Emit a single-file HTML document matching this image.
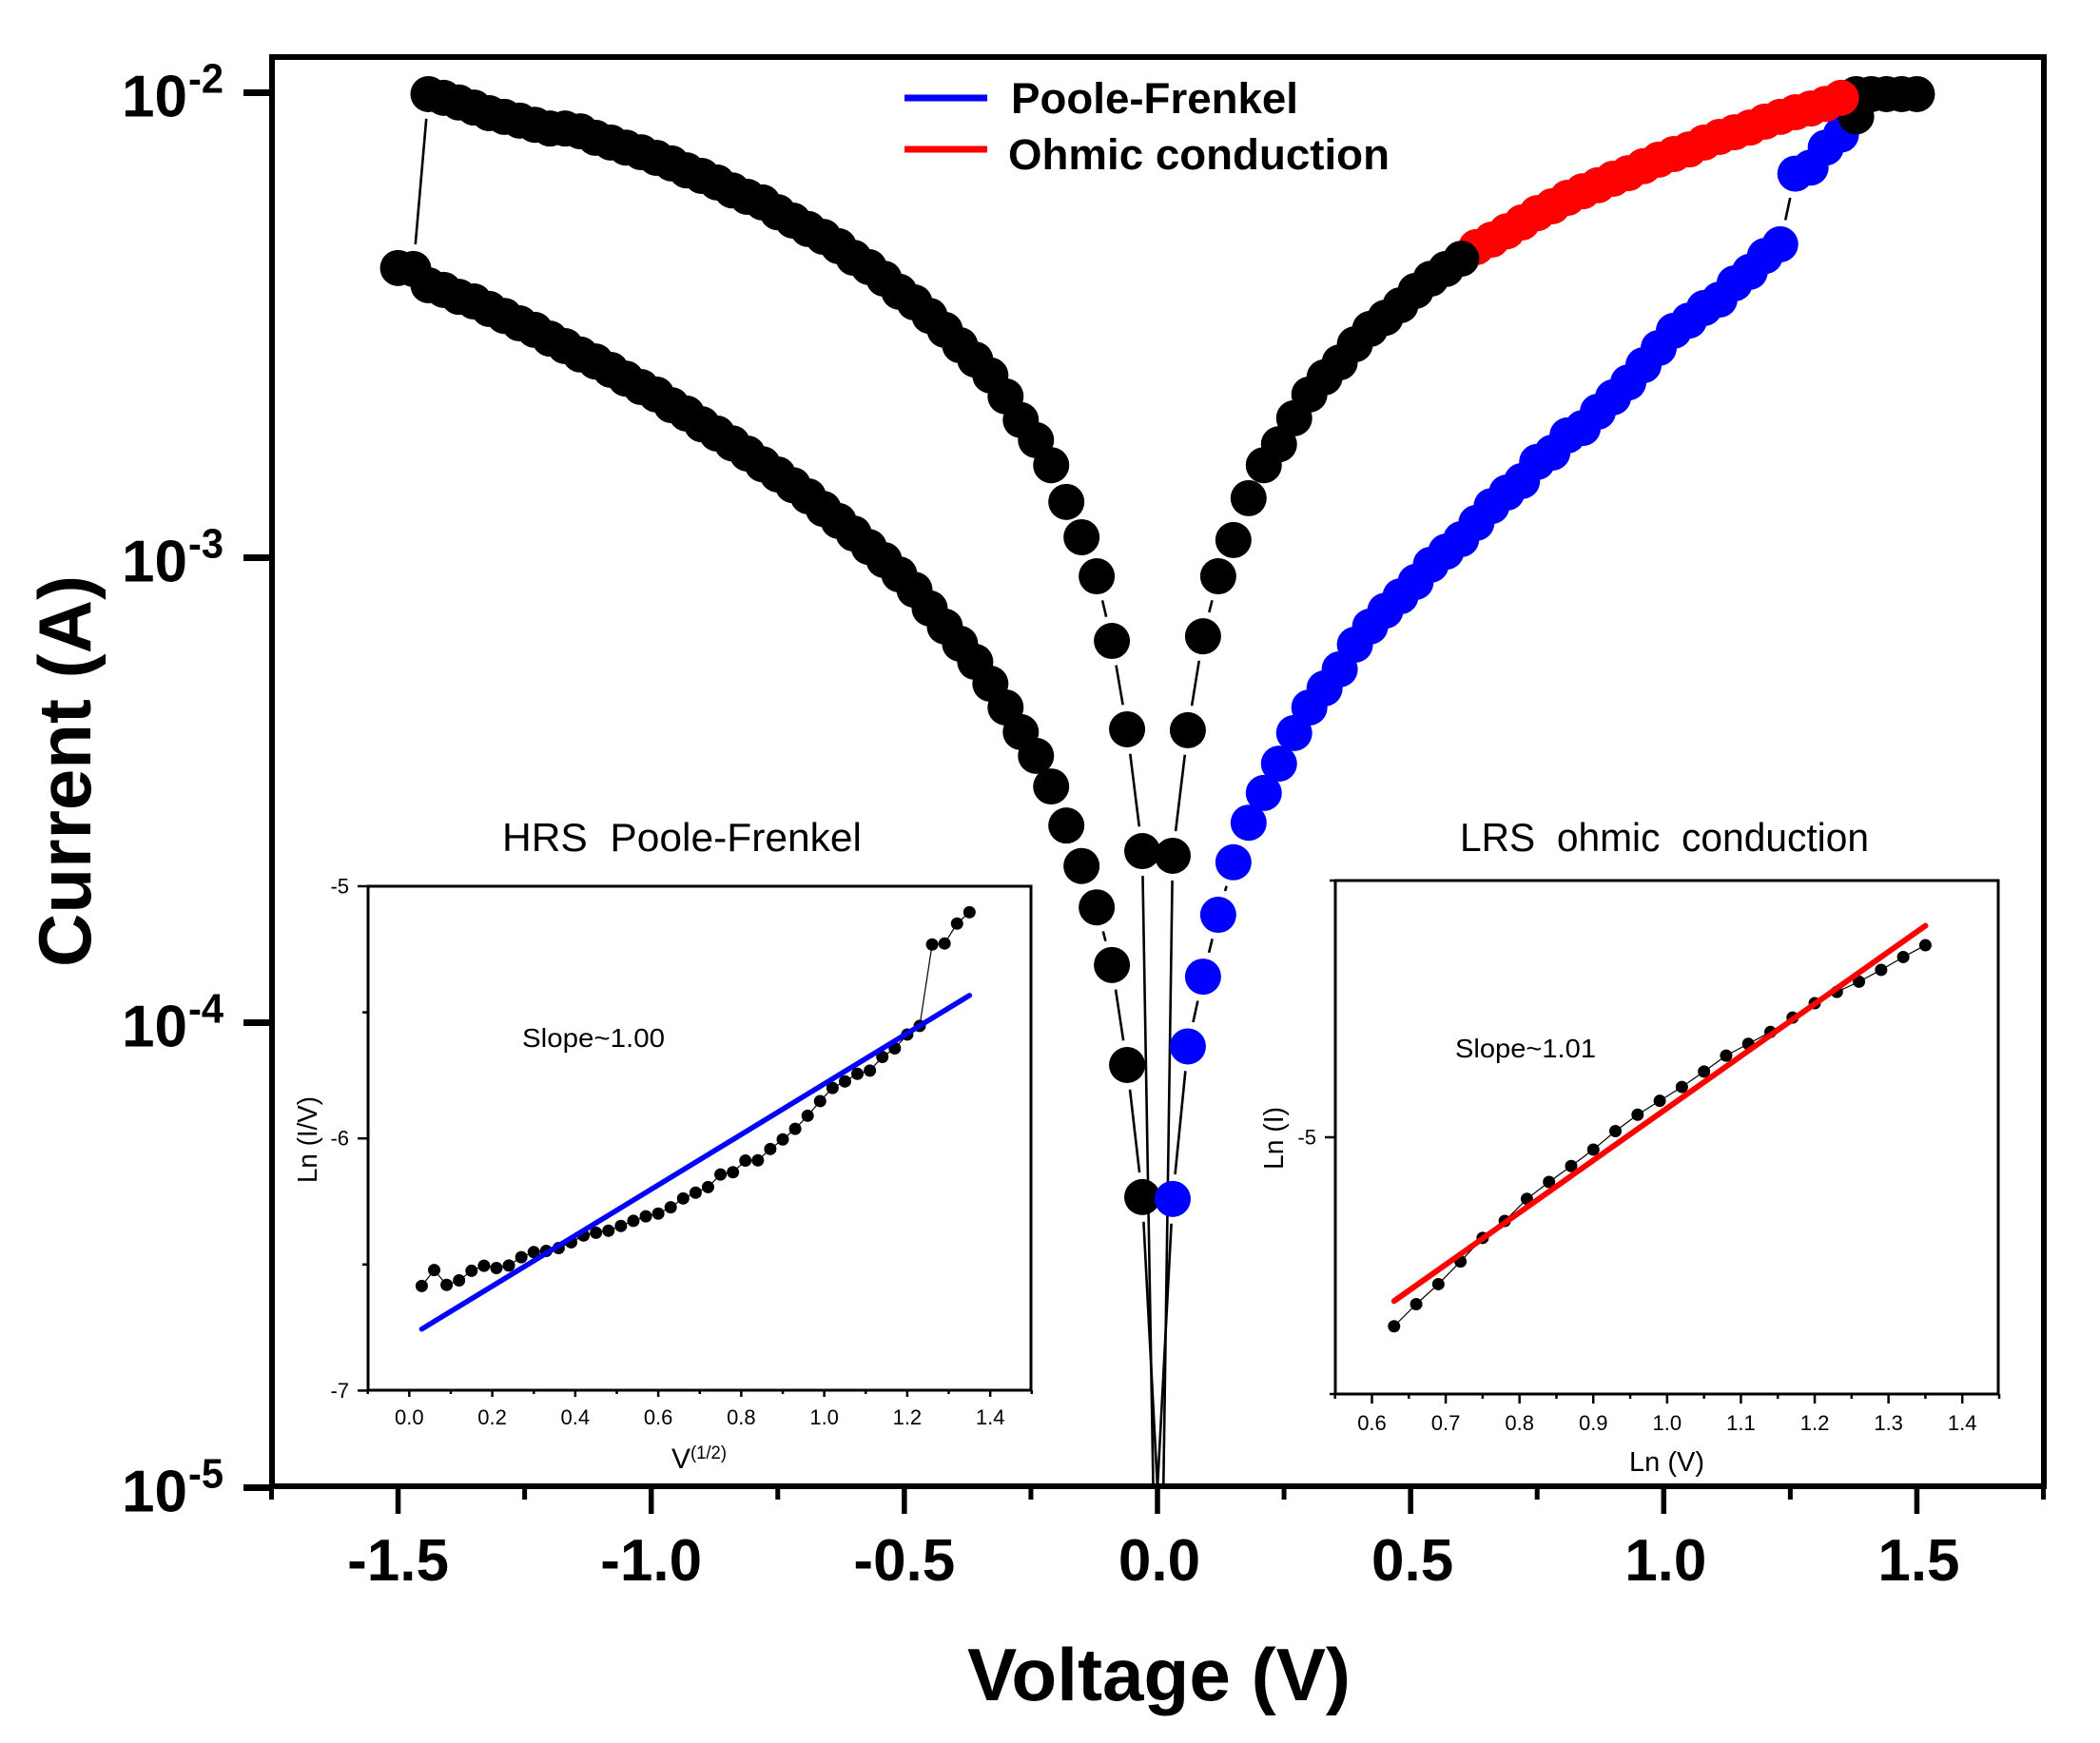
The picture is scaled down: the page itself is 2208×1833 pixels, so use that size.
<!DOCTYPE html>
<html lang="en">
<head>
<meta charset="utf-8">
<title>Current vs Voltage</title>
<style>
html,body{margin:0;padding:0;background:#fff;overflow:hidden;}
svg{display:block;}
text{font-family:"Liberation Sans",Arial,sans-serif;fill:#000;white-space:pre;}
.b{font-weight:bold;}
</style>
</head>
<body>
<svg id="chart" xmlns="http://www.w3.org/2000/svg" width="2208" height="1833" viewBox="0 0 2208 1833">
  <rect x="0" y="0" width="2208" height="1833" fill="#fff"/>
  <g id="main-lines"></g>
  <g id="main-marks"></g>
  <rect x="286" y="60" width="1863" height="1503" fill="none" stroke="#000" stroke-width="6"/>
  <g id="main-axes"></g>

  <text class="b" x="1017" y="1788" font-size="78" textLength="403" lengthAdjust="spacingAndGlyphs">Voltage (V)</text>
  <text class="b" transform="translate(95,1017) rotate(-90)" x="0" y="0" font-size="78" textLength="412" lengthAdjust="spacingAndGlyphs">Current (A)</text>

  <g>
    <line x1="951" y1="103" x2="1038" y2="103" stroke="#0000ff" stroke-width="7"/>
    <text class="b" x="1063" y="119" font-size="45" textLength="302" lengthAdjust="spacingAndGlyphs">Poole-Frenkel</text>
    <line x1="951" y1="157" x2="1038" y2="157" stroke="#ff0000" stroke-width="7"/>
    <text class="b" x="1060" y="178" font-size="45" textLength="401" lengthAdjust="spacingAndGlyphs">Ohmic conduction</text>
  </g>

  <g>
    <text x="528" y="895" font-size="42" textLength="378" lengthAdjust="spacingAndGlyphs">HRS  Poole-Frenkel</text>
    <g id="hrs-plot"></g>
    <rect x="387" y="932" width="697" height="530" fill="none" stroke="#000" stroke-width="3"/>
    <g id="hrs-axes"></g>
    <text x="549" y="1101" font-size="28" textLength="150" lengthAdjust="spacingAndGlyphs">Slope~1.00</text>
    <text transform="translate(333,1244) rotate(-90)" font-size="29" textLength="91" lengthAdjust="spacingAndGlyphs">Ln (I/V)</text>
    <text x="706" y="1544" font-size="30">V</text>
    <text x="726" y="1534" font-size="19" textLength="38" lengthAdjust="spacingAndGlyphs">(1/2)</text>
  </g>

  <g>
    <text x="1535" y="895" font-size="42" textLength="430" lengthAdjust="spacingAndGlyphs">LRS  ohmic  conduction</text>
    <g id="lrs-plot"></g>
    <rect x="1404" y="926" width="697" height="540" fill="none" stroke="#000" stroke-width="3"/>
    <g id="lrs-axes"></g>
    <text x="1530" y="1112" font-size="28" textLength="148" lengthAdjust="spacingAndGlyphs">Slope~1.01</text>
    <text transform="translate(1349,1230) rotate(-90)" font-size="29" textLength="66" lengthAdjust="spacingAndGlyphs">Ln (I)</text>
    <text x="1713" y="1547" font-size="29" textLength="79" lengthAdjust="spacingAndGlyphs">Ln (V)</text>
  </g>
</svg>
<script>
/* ---------- main chart data: voltage (V) and log10 of current (A) ---------- */
const upperLeftVoltage = [-1.44,-1.41,-1.38,-1.35,-1.32,-1.29,-1.26,-1.23,-1.20,-1.17,-1.14,-1.11,-1.08,-1.05,-1.02,-0.99,-0.96,-0.93,-0.90,-0.87,-0.84,-0.81,-0.78,-0.75,-0.72,-0.69,-0.66,-0.63,-0.60,-0.57,-0.54,-0.51,-0.48,-0.45,-0.42,-0.39,-0.36,-0.33,-0.30,-0.27,-0.24,-0.21,-0.18,-0.15,-0.12,-0.09,-0.06,-0.03];
const upperLeftLogI = [-2.003,-2.011,-2.021,-2.032,-2.044,-2.052,-2.060,-2.069,-2.077,-2.077,-2.083,-2.097,-2.107,-2.118,-2.128,-2.140,-2.152,-2.167,-2.179,-2.193,-2.210,-2.224,-2.236,-2.257,-2.275,-2.293,-2.310,-2.330,-2.355,-2.375,-2.400,-2.428,-2.451,-2.480,-2.510,-2.543,-2.574,-2.608,-2.653,-2.704,-2.747,-2.801,-2.880,-2.956,-3.040,-3.179,-3.369,-3.631];
const lowerLeftVoltage = [-1.50,-1.47,-1.44,-1.41,-1.38,-1.35,-1.32,-1.29,-1.26,-1.23,-1.20,-1.17,-1.14,-1.11,-1.08,-1.05,-1.02,-0.99,-0.96,-0.93,-0.90,-0.87,-0.84,-0.81,-0.78,-0.75,-0.72,-0.69,-0.66,-0.63,-0.60,-0.57,-0.54,-0.51,-0.48,-0.45,-0.42,-0.39,-0.36,-0.33,-0.30,-0.27,-0.24,-0.21,-0.18,-0.15,-0.12,-0.09,-0.06,-0.03];
const lowerLeftLogI = [-2.377,-2.379,-2.414,-2.424,-2.439,-2.449,-2.465,-2.480,-2.496,-2.510,-2.529,-2.545,-2.563,-2.578,-2.596,-2.615,-2.633,-2.649,-2.672,-2.690,-2.713,-2.733,-2.754,-2.776,-2.799,-2.821,-2.844,-2.868,-2.895,-2.921,-2.948,-2.977,-3.005,-3.036,-3.069,-3.109,-3.148,-3.185,-3.224,-3.271,-3.322,-3.375,-3.426,-3.492,-3.576,-3.663,-3.752,-3.876,-4.091,-4.375];
const hrsRightVoltage = [0.03,0.06,0.09,0.12,0.15,0.18,0.21,0.24,0.27,0.30,0.33,0.36,0.39,0.42,0.45,0.48,0.51,0.54,0.57,0.60,0.63,0.66,0.69,0.72,0.75,0.78,0.81,0.84,0.87,0.90,0.93,0.96,0.99,1.02,1.05,1.08,1.11,1.14,1.17,1.20,1.23,1.26,1.29,1.32,1.35];
const hrsRightLogI = [-4.379,-4.051,-3.901,-3.768,-3.655,-3.570,-3.506,-3.443,-3.377,-3.322,-3.281,-3.240,-3.187,-3.148,-3.114,-3.083,-3.052,-3.015,-2.987,-2.960,-2.925,-2.889,-2.860,-2.835,-2.794,-2.774,-2.737,-2.721,-2.686,-2.655,-2.623,-2.586,-2.549,-2.512,-2.490,-2.463,-2.445,-2.410,-2.385,-2.351,-2.326,-2.174,-2.161,-2.118,-2.090];
const lrsRightVoltage = [0.03,0.06,0.09,0.12,0.15,0.18,0.21,0.24,0.27,0.30,0.33,0.36,0.39,0.42,0.45,0.48,0.51,0.54,0.57,0.60];
const lrsRightLogI = [-3.641,-3.371,-3.169,-3.040,-2.962,-2.872,-2.801,-2.756,-2.700,-2.649,-2.612,-2.580,-2.541,-2.508,-2.484,-2.457,-2.426,-2.400,-2.379,-2.357];
const ohmicVoltage = [0.63,0.66,0.69,0.72,0.75,0.78,0.81,0.84,0.87,0.90,0.93,0.96,0.99,1.02,1.05,1.08,1.11,1.14,1.17,1.20,1.23,1.26,1.29,1.32,1.35];
const ohmicLogI = [-2.332,-2.316,-2.298,-2.279,-2.259,-2.244,-2.226,-2.212,-2.199,-2.185,-2.173,-2.158,-2.144,-2.132,-2.122,-2.107,-2.095,-2.085,-2.075,-2.062,-2.052,-2.042,-2.034,-2.024,-2.011];
const complianceVoltage = [1.38,1.38,1.41,1.44,1.47,1.50];
const complianceLogI = [-2.051,-2.003,-2.003,-2.003,-2.003,-2.003];
/* log10(I) reached by each branch at V = 0, below the visible axis range */
const zeroUpperLeftLogI = -5.53;
const zeroLowerLeftLogI = -5.00;
const zeroHrsRightLogI = -5.00;
const zeroLrsRightLogI = -5.87;
const xMajorTicks = [-1.5,-1.0,-0.5,0.0,0.5,1.0,1.5];
const xMinorTicks = [-1.75,-1.25,-0.75,-0.25,0.25,0.75,1.25,1.75];
const xTickLabels = ["-1.5","-1.0","-0.5","0.0","0.5","1.0","1.5"];
const yTickExponents = [-2,-3,-4,-5];

/* ---------- inset: HRS Poole-Frenkel ---------- */
const hrsInsetX = [0.03,0.06,0.09,0.12,0.15,0.18,0.21,0.24,0.27,0.30,0.33,0.36,0.39,0.42,0.45,0.48,0.51,0.54,0.57,0.60,0.63,0.66,0.69,0.72,0.75,0.78,0.81,0.84,0.87,0.90,0.93,0.96,0.99,1.02,1.05,1.08,1.11,1.14,1.17,1.20,1.23,1.26,1.29,1.32,1.35];
const hrsInsetY = [-6.585,-6.522,-6.581,-6.563,-6.525,-6.505,-6.514,-6.504,-6.471,-6.451,-6.446,-6.435,-6.412,-6.385,-6.374,-6.366,-6.347,-6.327,-6.309,-6.298,-6.273,-6.238,-6.215,-6.193,-6.143,-6.134,-6.088,-6.087,-6.042,-6.004,-5.962,-5.910,-5.852,-5.800,-5.774,-5.744,-5.731,-5.677,-5.643,-5.588,-5.554,-5.231,-5.227,-5.148,-5.103];
const hrsFitX = [0.03,1.35];
const hrsFitY = [-6.756,-5.433];
const hrsXMajor = [0.0,0.2,0.4,0.6,0.8,1.0,1.2,1.4];
const hrsXLabels = ["0.0","0.2","0.4","0.6","0.8","1.0","1.2","1.4"];
const hrsXMinor = [-0.1,0.1,0.3,0.5,0.7,0.9,1.1,1.3,1.5];
const hrsYMajor = [-5,-6,-7];
const hrsYLabels = ["-5","-6","-7"];
const hrsYMinor = [-5.5,-6.5];

/* ---------- inset: LRS ohmic conduction ---------- */
const lrsInsetX = [0.63,0.66,0.69,0.72,0.75,0.78,0.81,0.84,0.87,0.90,0.93,0.96,0.99,1.02,1.05,1.08,1.11,1.14,1.17,1.20,1.23,1.26,1.29,1.32,1.35];
const lrsInsetY = [-5.368,-5.325,-5.286,-5.242,-5.196,-5.163,-5.120,-5.087,-5.056,-5.024,-4.988,-4.956,-4.929,-4.902,-4.872,-4.841,-4.818,-4.795,-4.767,-4.739,-4.717,-4.697,-4.674,-4.649,-4.626];
const lrsFitX = [0.63,1.35];
const lrsFitY = [-5.319,-4.588];
const lrsXMajor = [0.6,0.7,0.8,0.9,1.0,1.1,1.2,1.3,1.4];
const lrsXLabels = ["0.6","0.7","0.8","0.9","1.0","1.1","1.2","1.3","1.4"];
const lrsXMinor = [0.55,0.65,0.75,0.85,0.95,1.05,1.15,1.25,1.35,1.45];
const lrsYMajor = [-5];
const lrsYLabels = ["-5"];
const lrsYMinor = [-4.5,-5.5];

/* ---------- axis functions ---------- */
const SVG_NS = "http://www.w3.org/2000/svg";
const PLOT_BOTTOM = 1563;
function mainX(v){ return 1217 + 532.3 * v; }
function mainY(e){ return 97.5 + (-2 - e) * 489; }
function hrsX(v){ return 386.7 + (v + 0.1) * 436.3; }
function hrsY(y){ return 932 + (-5 - y) * 265.2; }
function lrsX(v){ return 1403.7 + (v - 0.55) * 775.9; }
function lrsY(y){ return 926 + (-4.5 - y) * 540; }

function make(tag, parent, attrs){
  const el = document.createElementNS(SVG_NS, tag);
  for (const k in attrs) el.setAttribute(k, attrs[k]);
  parent.appendChild(el);
  return el;
}

const mainLines = document.getElementById("main-lines");
const mainMarks = document.getElementById("main-marks");
const mainAxes = document.getElementById("main-axes");
const GAP = 26;

function gappedSegment(x1, y1, x2, y2, gapStart, gapEnd){
  const dx = x2 - x1, dy = y2 - y1, len = Math.hypot(dx, dy);
  if (len <= gapStart + gapEnd) return;
  const ux = dx / len, uy = dy / len;
  const sx = x1 + ux * gapStart, sy = y1 + uy * gapStart;
  let ex = x2 - ux * gapEnd, ey = y2 - uy * gapEnd;
  /* stop at the x axis: branches keep falling below the visible range */
  if (ey > PLOT_BOTTOM){
    const t = (PLOT_BOTTOM - sy) / (ey - sy);
    ex = sx + (ex - sx) * t;
    ey = PLOT_BOTTOM;
  }
  const ln = make("line", mainLines, {x1:sx, y1:sy, x2:ex, y2:ey, stroke:"#000", "stroke-width":2.6});
  
  
}
function connectSeries(vs, es){
  for (let i = 0; i + 1 < vs.length; i++){
    gappedSegment(mainX(vs[i]), mainY(es[i]), mainX(vs[i+1]), mainY(es[i+1]), GAP, GAP);
  }
}
function drawMarkers(vs, es, color, name){
  for (let i = 0; i < vs.length; i++){
    const c = make("circle", mainMarks, {cx:mainX(vs[i]), cy:mainY(es[i]), r:19, fill:color});
    
    
  }
}

connectSeries(upperLeftVoltage, upperLeftLogI);
connectSeries(lowerLeftVoltage, lowerLeftLogI);
connectSeries(hrsRightVoltage, hrsRightLogI);
connectSeries(lrsRightVoltage, lrsRightLogI);
connectSeries(ohmicVoltage, ohmicLogI);
/* set-transition link on the negative side, and lines running down to V = 0 */
gappedSegment(mainX(upperLeftVoltage[0]), mainY(upperLeftLogI[0]), mainX(lowerLeftVoltage[1]), mainY(lowerLeftLogI[1]), GAP, GAP);
gappedSegment(mainX(-0.03), mainY(upperLeftLogI[upperLeftLogI.length-1]), mainX(0), mainY(zeroUpperLeftLogI), GAP, 0);
gappedSegment(mainX(-0.03), mainY(lowerLeftLogI[lowerLeftLogI.length-1]), mainX(0), mainY(zeroLowerLeftLogI), GAP, 0);
gappedSegment(mainX(0.03), mainY(hrsRightLogI[0]), mainX(0), mainY(zeroHrsRightLogI), GAP, 0);
gappedSegment(mainX(0.03), mainY(lrsRightLogI[0]), mainX(0), mainY(zeroLrsRightLogI), GAP, 0);

drawMarkers(upperLeftVoltage, upperLeftLogI, "#000", "upper-left-point");
drawMarkers(lowerLeftVoltage, lowerLeftLogI, "#000", "lower-left-point");
drawMarkers(hrsRightVoltage, hrsRightLogI, "#0000ff", "poole-frenkel-point");
drawMarkers(complianceVoltage, complianceLogI, "#000", "compliance-point");
drawMarkers(ohmicVoltage, ohmicLogI, "#ff0000", "ohmic-point");
drawMarkers(lrsRightVoltage, lrsRightLogI, "#000", "lrs-right-point");

/* main axis ticks */
xMajorTicks.forEach(function(v, i){
  const t = make("line", mainAxes, {x1:mainX(v), y1:1563, x2:mainX(v), y2:1592, stroke:"#000", "stroke-width":5.5});
  
  
  const lab = make("text", mainAxes, {x:mainX(v) + (v >= 0 ? 2 : 0), y:1662, "font-size":62, "font-weight":"bold", "text-anchor":"middle"});
  
  
  lab.textContent = xTickLabels[i];
});
xMinorTicks.forEach(function(v){
  const t = make("line", mainAxes, {x1:mainX(v), y1:1563, x2:mainX(v), y2:1577, stroke:"#000", "stroke-width":5});
  
  
});
yTickExponents.forEach(function(e){
  const y = mainY(e);
  const t = make("line", mainAxes, {x1:256, y1:y, x2:286, y2:y, stroke:"#000", "stroke-width":7});
  
  
  const base = make("text", mainAxes, {x:197, y:y+25, "font-size":62, "font-weight":"bold", "text-anchor":"end"});
  
  
  base.textContent = "10";
  const sup = make("text", mainAxes, {x:198, y:y, "font-size":44, "font-weight":"bold", textLength:37, lengthAdjust:"spacingAndGlyphs"});
  
  
  sup.textContent = String(e);
});

/* insets */
function drawInset(plotId, axesId, sx, sy, xs, ys, fitXs, fitYs, fitColor, fitWidth, box, xMajor, xLabels, xMinor, yMajor, yLabels, yMinor, opts){
  const plot = document.getElementById(plotId);
  const axes = document.getElementById(axesId);
  for (let i = 0; i + 1 < xs.length; i++){
    const seg = make("line", plot, {x1:sx(xs[i]), y1:sy(ys[i]), x2:sx(xs[i+1]), y2:sy(ys[i+1]), stroke:"#000", "stroke-width":1.2});
    
    
  }
  for (let i = 0; i < xs.length; i++){
    const c = make("circle", plot, {cx:sx(xs[i]), cy:sy(ys[i]), r:6.5, fill:"#000"});
    
    
  }
  const fit = make("line", plot, {x1:sx(fitXs[0]), y1:sy(fitYs[0]), x2:sx(fitXs[1]), y2:sy(fitYs[1]), stroke:fitColor, "stroke-width":fitWidth, "stroke-linecap":"round"});
  
  

  xMajor.forEach(function(v, i){
    const t = make("line", axes, {x1:sx(v), y1:box.bottom, x2:sx(v), y2:box.bottom + opts.xMajorLen, stroke:"#000", "stroke-width":2.5});
    
    
    const lab = make("text", axes, {x:sx(v), y:opts.xLabelY, "font-size":22, "text-anchor":"middle"});
    
    
    lab.textContent = xLabels[i];
  });
  xMinor.forEach(function(v){
    const t = make("line", axes, {x1:sx(v), y1:box.bottom, x2:sx(v), y2:box.bottom + opts.xMinorLen, stroke:"#000", "stroke-width":2.5});
    
    
  });
  yMajor.forEach(function(v, i){
    const t = make("line", axes, {x1:box.left - 11, y1:sy(v), x2:box.left, y2:sy(v), stroke:"#000", "stroke-width":2.5});
    
    
    const lab = make("text", axes, {x:box.left - 20, y:sy(v) + 7.5, "font-size":22, "text-anchor":"end"});
    
    
    lab.textContent = yLabels[i];
  });
  yMinor.forEach(function(v){
    const t = make("line", axes, {x1:box.left - 6, y1:sy(v), x2:box.left, y2:sy(v), stroke:"#000", "stroke-width":2.5});
    
    
  });
}
drawInset("hrs-plot", "hrs-axes", hrsX, hrsY, hrsInsetX, hrsInsetY, hrsFitX, hrsFitY, "#0000ff", 5.5,
  {left:387, bottom:1462}, hrsXMajor, hrsXLabels, hrsXMinor, hrsYMajor, hrsYLabels, hrsYMinor,
  {xMajorLen:7, xMinorLen:4, xLabelY:1498});
drawInset("lrs-plot", "lrs-axes", lrsX, lrsY, lrsInsetX, lrsInsetY, lrsFitX, lrsFitY, "#ff0000", 6,
  {left:1404, bottom:1466}, lrsXMajor, lrsXLabels, lrsXMinor, lrsYMajor, lrsYLabels, lrsYMinor,
  {xMajorLen:10, xMinorLen:5, xLabelY:1504});
</script>
</body>
</html>
